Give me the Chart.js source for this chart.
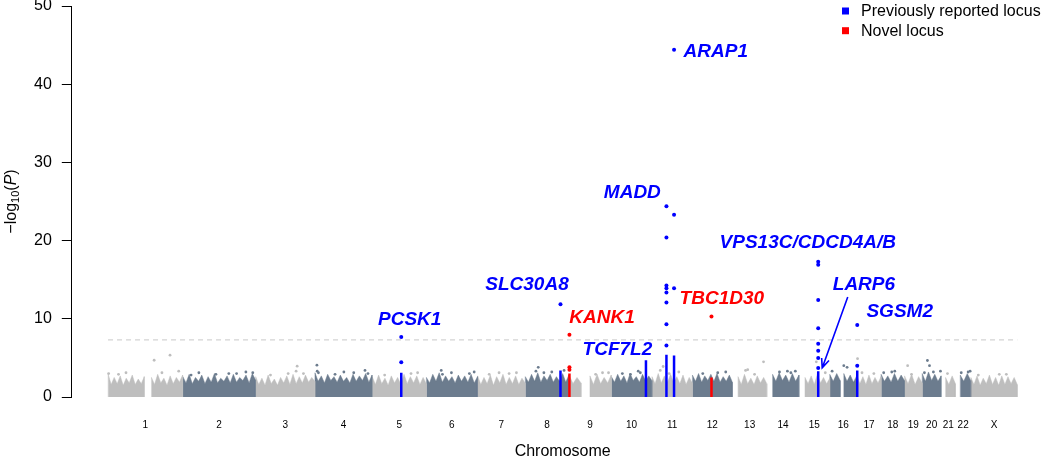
<!DOCTYPE html>
<html>
<head>
<meta charset="utf-8">
<script src="https://cdn.jsdelivr.net/npm/chart.js@4.4.1/dist/chart.umd.min.js"></script>
<style>
  html, body { margin: 0; padding: 0; background: #fff; }
  #wrap { width: 1050px; height: 458px; position: relative; }
</style>
</head>
<body>
<div id="wrap"><canvas id="manhattan"></canvas></div>
<script>
// chromosomes (hg19 lengths, Mb)
const chrNames = ['1','2','3','4','5','6','7','8','9','10','11','12','13','14','15','16','17','18','19','20','21','22','X'];
const chrLengths = [249.3,243.2,198.0,191.2,180.9,171.1,159.1,146.4,141.2,135.5,135.0,133.9,115.2,107.3,102.5,90.4,81.2,78.1,59.1,63.0,48.1,51.3,155.3];
const yTicks = [0, 10, 20, 30, 40, 50];
const gwThreshold = 7.3;

// dense background cloud: [chr, from Mb, to Mb, top of cloud along the segment]
const cloudTops = [
  ['1', 0.5, 121, [2.9,1.6,2.5,1.7,2.7,1.5,2.4,1.8,2.8,1.6,2.3,1.7,2.6]],
  ['1', 145, 249, [2.5,1.6,2.9,1.8,2.4,1.5,2.7,1.7,2.5,1.9,2.8]],
  ['2', 0.5, 243, [2.6,1.8,2.9,1.7,2.5,2.0,2.8,1.7,2.6,1.9,3.0,1.8,2.4,2.0,2.7,1.8,2.9,1.9,2.5,2.1,2.8,1.8,3.0,2.2]],
  ['3', 0.5, 198, [2.6,1.6,2.4,1.5,2.8,1.7,2.3,1.5,2.5,1.8,2.7,1.6,2.9,1.7,2.6,1.8,2.8,1.9,2.5,2.0]],
  ['4', 0.5, 191, [3.1,2.0,2.7,1.8,2.9,2.1,2.6,1.9,2.8,2.0,2.5,1.8,2.9,2.0,2.7,2.1,3.0,1.9,2.8]],
  ['5', 0.5, 181, [2.6,1.6,2.8,1.7,2.4,1.5,2.7,1.8,2.5,1.6,2.9,1.7,2.6,1.8,2.7,1.6,2.5,1.7]],
  ['6', 0.5, 171, [2.5,1.8,2.9,2.0,3.1,1.9,2.7,2.0,2.6,1.8,2.8,2.0,2.7,1.9,2.9,1.8,2.6]],
  ['7', 0.5, 159, [2.7,1.6,2.5,1.7,2.8,1.5,2.6,1.8,2.9,1.6,2.5,1.7,2.7,1.6,2.4,1.8]],
  ['8', 0.5, 146, [2.6,1.9,2.9,2.0,3.1,1.9,2.7,2.1,2.9,1.9,2.6,2.0,3.0,1.9,2.8]],
  ['9', 0.2, 40, [2.8,1.7,2.5,1.8]],
  ['9', 70, 141, [2.7,1.6,2.9,1.7,2.5,1.8,2.8]],
  ['10', 0.5, 135.5, [2.6,1.9,2.9,2.0,2.7,1.8,3.0,2.1,2.6,1.9,2.9,2.0,2.7,2.1]],
  ['11', 0.5, 135, [2.6,1.7,3.0,1.8,2.7,1.9,2.9,1.8,2.6,1.7,2.8,1.6,2.5,1.8]],
  ['12', 0.5, 133.9, [2.8,2.0,3.0,1.9,2.7,2.1,2.9,2.0,3.0,1.9,2.6,2.0,2.8,1.9]],
  ['13', 19, 115, [2.6,1.6,2.9,1.7,2.4,1.6,2.7,1.8,2.5,1.7]],
  ['14', 19, 107, [2.9,2.0,3.1,2.1,2.8,1.9,3.0,2.0,2.8]],
  ['15', 20, 102.5, [2.5,1.7,2.7,1.6,2.9,1.8,2.5,1.7,2.4]],
  ['16', 0.1, 35, [2.9,2.0,3.0,2.1]],
  ['16', 47, 90, [3.0,2.0,2.8,1.9,2.7]],
  ['17', 0.1, 81, [2.8,1.7,2.6,1.6,2.8,1.7,2.5,1.8,2.6]],
  ['18', 0.1, 78, [2.9,2.0,2.7,1.9,3.0,2.0,2.8,2.1]],
  ['19', 0.1, 59, [2.7,1.7,2.9,1.6,2.6,1.8]],
  ['20', 0.1, 63, [3.0,2.0,3.2,2.1,2.9,2.0,2.7]],
  ['21', 15, 48, [2.5,1.6,2.7,1.7]],
  ['22', 16, 51, [2.8,2.0,3.0,2.1]],
  ['X', 0.1, 155, [2.5,1.6,2.7,1.5,2.4,1.7,2.8,1.6,2.5,1.5,2.7,1.6,2.6,1.7,2.5,1.6]]
];

// scattered background SNPs above the cloud: [chr, Mb, -log10 P]
const cloudOutliers = [
  ['1',2,3.0],['1',35,2.9],['1',60,3.1],['1',154,4.7],['1',207,5.35],['1',236,3.3],['1',180,3.1],
  ['2',28,2.8],['2',54,3.1],['2',111,2.9],['2',154,3.0],['2',211,3.2],['2',234,3.1],['2',180,3.0],
  ['3',50,2.8],['3',109,3.0],['3',135.5,3.3],['3',139,3.94],['3',160,3.0],
  ['4',7,4.07],['4',8,3.3],['4',12,3.1],['4',67.5,2.9],['4',97,3.2],['4',130,3.1],['4',167.5,3.4],['4',177.5,3.0],
  ['5',42,2.8],['5',130,3.0],['5',152,3.1],
  ['6',50,3.4],['6',54,2.9],['6',84,3.1],['6',144,3.0],['6',160,3.2],
  ['7',39,2.9],['7',72,3.1],['7',105.5,3.0],['7',130,3.1],
  ['8',36,3.3],['8',43.7,3.8],['8',62.6,3.1],['8',89,3.2],['8',130,3.4],
  ['9',89,2.9],['9',112,3.1],['9',132,3.1],
  ['10',37,3.0],['10',64,2.9],['10',90,3.3],['10',97,3.1],
  ['11',28,3.4],['11',37.7,3.9],['11',57.6,3.0],['11',90,3.2],
  ['12',35,3.0],['12',85,3.1],['12',111.7,3.2],
  ['13',44,3.4],['13',51,3.5],['13',74,2.9],['13',104,4.5],
  ['14',42,3.2],['14',68.5,3.3],['14',95,3.3],['14',80,3.1],
  ['15',57.7,4.5],['15',87.7,3.1],
  ['16',8,3.3],['16',47,4.0],['16',58,3.8],
  ['17',2.5,4.9],['17',17.4,3.1],['17',57,3.0],
  ['18',8.6,3.1],['18',35.6,3.2],['18',45.6,3.3],
  ['19',10.5,4.0],['19',23.5,2.9],
  ['20',7.4,3.1],['20',17.4,4.67],['20',24.4,4.0],['20',37.4,3.2],['20',60.9,3.3],
  ['21',21.4,3.0],
  ['22',19.3,3.1],['22',42.3,3.2],['22',49,3.3],
  ['X',25,2.8],['X',95,2.9],['X',118.6,2.9]
];

// dense stacks of SNPs at each locus: [chr, Mb, top of stack, kind]
const locusStacks = [
  ['5', 97.4, 3.1, 'reported'],
  ['8', 118.0, 3.4, 'reported'],
  ['9', 1.5, 3.0, 'novel'],
  ['10', 115.8, 4.7, 'reported'],
  ['11', 48.7, 5.4, 'reported'],
  ['11', 74.1, 5.3, 'reported'],
  ['12', 64.1, 2.5, 'novel'],
  ['15', 64.1, 3.3, 'reported'],
  ['17', 1.5, 3.4, 'reported']
];

// individual SNPs at the loci: [chr, Mb, -log10 P]
const reportedSnps = [
  ['5',97.4,7.66],['5',97.4,4.45],
  ['8',118.0,11.85],
  ['11',48.7,24.4],['11',48.7,20.4],['11',48.7,14.25],['11',48.7,13.9],['11',48.7,13.35],
  ['11',48.7,12.1],['11',48.7,9.3],['11',48.7,6.6],
  ['11',74.1,44.4],['11',74.1,23.3],['11',74.1,13.9],
  ['15',64.1,17.3],['15',64.1,16.9],['15',64.1,12.4],['15',64.1,8.8],['15',64.1,6.8],
  ['15',64.1,5.9],['15',64.1,5.0],['15',64.1,3.7],
  ['17',1.5,9.2],['17',1.5,4.0]
];
const novelSnps = [
  ['9',1.5,7.96],['9',1.5,3.8],['9',1.5,3.5],
  ['12',64.1,10.3]
];

// gene labels: [text, genome Mb, -log10 P, kind]
const geneLabels = [
  ['ARAP1', 2029.5, 44.1, 'reported'],
  ['MADD', 1750.7, 26.15, 'reported'],
  ['SLC30A8', 1399, 14.35, 'reported'],
  ['KANK1', 1649.5, 10.1, 'novel'],
  ['TCF7L2', 1701, 6.0, 'reported'],
  ['TBC1D30', 2049.5, 12.55, 'novel'],
  ['VPS13C/CDCD4A/B', 2336.5, 19.7, 'reported'],
  ['LARP6', 2524, 14.4, 'reported'],
  ['SGSM2', 2643.5, 10.9, 'reported'],
  ['PCSK1', 1007.3, 9.85, 'reported']
];
// arrow from the LARP6 label to its SNPs: [from Mb, from P, to Mb, to P]
const larp6Arrow = [2470, 12.8, 2384.7, 3.72];
const legendLabels = [['Previously reported locus', 'reported'], ['Novel locus', 'novel']];

const FONT = '"Liberation Sans", Arial, Helvetica, sans-serif';
const LIGHT = '#bebebe';
const DARK = '#6c7c8e';
const KIND_COLOR = { reported: '#0000ff', novel: '#ff0000' };

const chrStarts = [];
let genomeLength = 0;
chrLengths.forEach(function (len) { chrStarts.push(genomeLength); genomeLength += len; });
const chrCenters = chrLengths.map(function (len, i) { return chrStarts[i] + len / 2; });

function gpos(chr, mb) { return chrStarts[chrNames.indexOf(chr)] + mb; }
function chrColor(chr) { return chrNames.indexOf(chr) % 2 === 0 ? LIGHT : DARK; }
function toPoint(r) { return { x: gpos(r[0], r[1]), y: r[2] }; }

const datasets = [];

cloudTops.forEach(function (seg) {
  const chr = seg[0], from = seg[1], to = seg[2], tops = seg[3];
  const pts = [{ x: gpos(chr, from), y: 0 }];
  tops.forEach(function (v, i) {
    pts.push({ x: gpos(chr, from + i * (to - from) / (tops.length - 1)), y: v });
  });
  pts.push({ x: gpos(chr, to), y: 0 });
  const col = chrColor(chr);
  datasets.push({
    type: 'line', data: pts, fill: 'origin', backgroundColor: col, borderColor: col,
    borderWidth: 0.5, pointRadius: 0, tension: 0, order: 6
  });
});

datasets.push({
  type: 'line',
  data: [{ x: 0, y: gwThreshold }, { x: genomeLength, y: gwThreshold }],
  borderColor: '#c8c8c8', borderWidth: 1, borderDash: [5, 4], pointRadius: 0, order: 5
});

datasets.push({
  type: 'scatter', data: cloudOutliers.map(toPoint),
  pointRadius: 1.4, pointBorderWidth: 0,
  pointBackgroundColor: cloudOutliers.map(function (r) { return chrColor(r[0]); }),
  order: 4, clip: false
});

locusStacks.forEach(function (s) {
  const x = gpos(s[0], s[1]);
  datasets.push({
    type: 'line', data: [{ x: x, y: 0 }, { x: x, y: s[2] }],
    borderColor: KIND_COLOR[s[3]], borderWidth: 2.5, pointRadius: 0, order: 3
  });
});

datasets.push({
  type: 'scatter', data: reportedSnps.map(toPoint),
  pointRadius: 2, pointBorderWidth: 0, pointBackgroundColor: KIND_COLOR.reported, order: 2, clip: false
});
datasets.push({
  type: 'scatter', data: novelSnps.map(toPoint),
  pointRadius: 2, pointBorderWidth: 0, pointBackgroundColor: KIND_COLOR.novel, order: 1, clip: false
});

const annotate = {
  id: 'annotate',
  afterDraw: function (chart) {
    const ctx = chart.ctx;
    const xs = chart.scales.x, ys = chart.scales.y;
    const area = chart.chartArea;
    ctx.save();

    // gene labels
    ctx.font = 'italic bold 19px ' + FONT;
    ctx.textAlign = 'center';
    ctx.textBaseline = 'middle';
    geneLabels.forEach(function (g) {
      ctx.fillStyle = KIND_COLOR[g[3]];
      ctx.fillText(g[0], xs.getPixelForValue(g[1]), ys.getPixelForValue(g[2]));
    });

    // LARP6 arrow
    const x1 = xs.getPixelForValue(larp6Arrow[0]), y1 = ys.getPixelForValue(larp6Arrow[1]);
    const x2 = xs.getPixelForValue(larp6Arrow[2]), y2 = ys.getPixelForValue(larp6Arrow[3]);
    const ang = Math.atan2(y2 - y1, x2 - x1);
    ctx.strokeStyle = KIND_COLOR.reported;
    ctx.lineWidth = 1.6;
    ctx.beginPath();
    ctx.moveTo(x1, y1); ctx.lineTo(x2, y2);
    ctx.moveTo(x2 - 10 * Math.cos(ang - 0.4), y2 - 10 * Math.sin(ang - 0.4));
    ctx.lineTo(x2, y2);
    ctx.lineTo(x2 - 10 * Math.cos(ang + 0.4), y2 - 10 * Math.sin(ang + 0.4));
    ctx.stroke();

    // legend
    ctx.font = '16px ' + FONT;
    ctx.textAlign = 'left';
    legendLabels.forEach(function (l, i) {
      const cy = 11 + i * 19.7;
      ctx.fillStyle = KIND_COLOR[l[1]];
      ctx.fillRect(842, cy - 3.5, 7, 7);
      ctx.fillStyle = '#000';
      ctx.fillText(l[0], 861, cy + 1);
    });

    // x title
    ctx.textAlign = 'center';
    ctx.fillText('Chromosome', xs.getPixelForValue(genomeLength / 2), 452);

    // y title: -log10(P)
    ctx.translate(12, (area.top + area.bottom) / 2);
    ctx.rotate(-Math.PI / 2);
    const big = '16px ' + FONT, small = '11px ' + FONT, ital = 'italic 16px ' + FONT;
    const parts = [['\u2212log', big, 0], ['10', small, 4], ['(', big, 0], ['P', ital, 0], [')', big, 0]];
    let total = 0;
    parts.forEach(function (p) { ctx.font = p[1]; total += ctx.measureText(p[0]).width; });
    let cx = -total / 2;
    ctx.textAlign = 'left';
    parts.forEach(function (p) {
      ctx.font = p[1];
      ctx.fillText(p[0], cx, p[2]);
      cx += ctx.measureText(p[0]).width;
    });
    ctx.restore();
  }
};

new Chart(document.getElementById('manhattan'), {
  type: 'scatter',
  data: { datasets: datasets },
  options: {
    responsive: true,
    maintainAspectRatio: false,
    animation: false,
    events: [],
    layout: { padding: { left: 24, right: 0, top: 6, bottom: 5 } },
    plugins: { legend: { display: false }, tooltip: { enabled: false } },
    scales: {
      x: {
        type: 'linear',
        min: -121,
        max: 3132,
        afterBuildTicks: function (axis) {
          axis.ticks = chrCenters.map(function (v) { return { value: v }; });
        },
        ticks: {
          autoSkip: false, maxRotation: 0, padding: 22, color: '#000',
          font: { family: FONT, size: 10 },
          callback: function (value, index) { return chrNames[index]; }
        },
        grid: { display: false, drawTicks: false },
        border: { display: false }
      },
      y: {
        min: 0,
        max: 50,
        afterBuildTicks: function (axis) {
          axis.ticks = yTicks.map(function (v) { return { value: v }; });
        },
        afterFit: function (axis) {
          // let the top tick label hang over the edge as in the original
          axis.paddingTop = 0;
          axis.paddingBottom = 0;
        },
        ticks: { color: '#000', padding: 10, font: { family: FONT, size: 16 } },
        grid: { drawOnChartArea: false, drawTicks: true, tickLength: 10, color: '#000' },
        border: { color: '#000', width: 1 }
      }
    }
  },
  plugins: [annotate]
});
</script>
</body>
</html>
